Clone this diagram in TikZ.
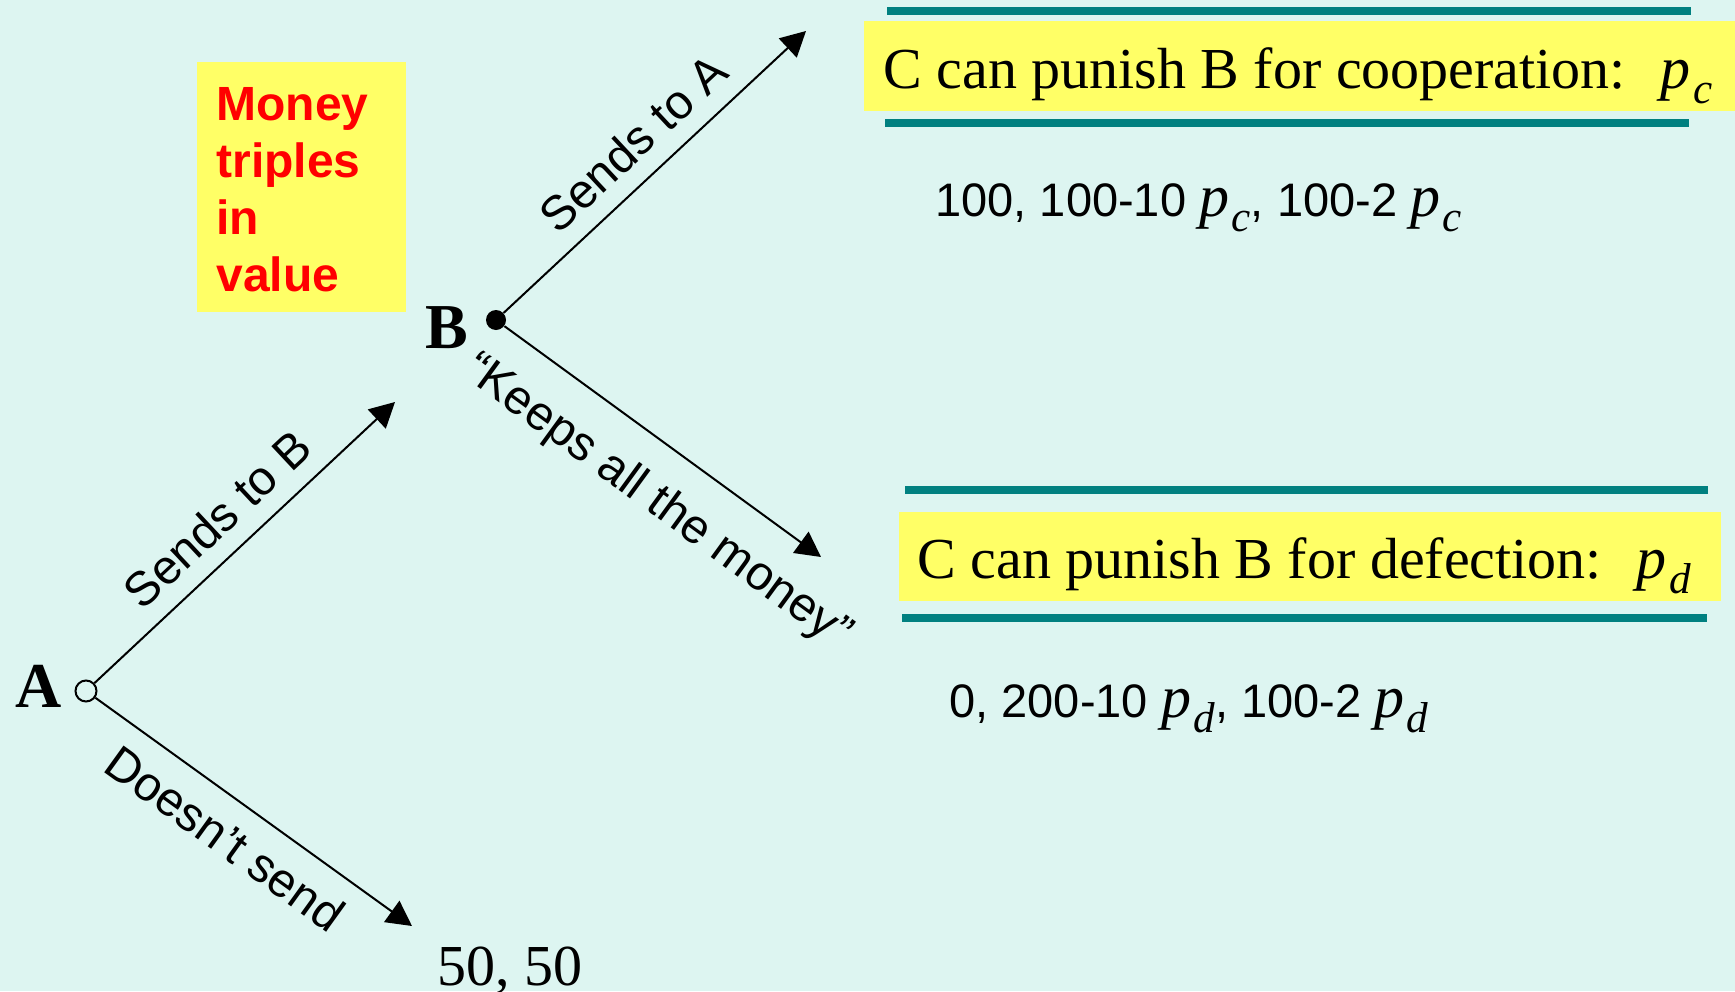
\documentclass[tikz,border=0pt]{standalone}
\usepackage{fontspec}
\usepackage{graphicx}
\usepackage{xcolor}
\usetikzlibrary{arrows.meta}
\setmainfont{Liberation Serif}
\setsansfont{Liberation Sans}
\definecolor{bgaqua}{RGB}{221,245,241}
\definecolor{hilite}{RGB}{255,255,102}
\definecolor{bandteal}{RGB}{0,128,128}
\newcommand{\pv}[2]{{\rmfamily\itshape\fontsize{#1}{#1}\selectfont p\kern0.04em\raisebox{-0.25em}{\scalebox{0.72}{#2}}}}
\newcommand{\lblfont}{\sffamily\fontsize{24}{28}\selectfont}
\tikzset{
    branch/.style={line width=1pt, -{Triangle[length=12.5pt,width=13pt]}},
    edgelbl/.style={font=\lblfont, sloped, inner sep=0pt, text height=17pt, text depth=0pt},
    player/.style={font=\bfseries\fontsize{32}{36}\selectfont, inner sep=0pt, anchor=base west},
    moneytxt/.style={font=\sffamily\bfseries\fontsize{24}{28}\selectfont, text=red, inner sep=0pt, anchor=base west},
    bannertxt/.style={font=\rmfamily\fontsize{29}{35}\selectfont, inner sep=0pt, anchor=base west},
    payoff/.style={font=\sffamily\fontsize{23.5}{28}\selectfont, inner sep=0pt, anchor=base west}
}

\begin{document}
\begin{tikzpicture}[x=0.5pt,y=-0.5pt]
\fill[bgaqua] (0,0) rectangle (1735,991);
\useasboundingbox (0,0) rectangle (1735,991);
\fill[hilite] (197,62) rectangle (406,312);
\fill[hilite] (864,21) rectangle (1735,111);
\fill[hilite] (899,512) rectangle (1721,601);
\foreach \xa/\xb/\y in {
    887/1691/10.5, 885/1689/122.5,
    905/1708/490, 902/1707/618
}{
    \draw[line width=4pt, bandteal] (\xa,\y) -- (\xb,\y);
}
\foreach \word[count=\i] in {Money, triples, in, value}{
    \node[moneytxt] (money\i) at (216, 63+57*\i) {\word};
}
\node[circle, draw, line width=1pt, fill=bgaqua, minimum size=10.5pt, inner sep=0pt] (A) at (86,691) {};
\node[circle, fill=black, minimum size=10pt, inner sep=0pt] (B) at (496,320) {};
\node[player] (Alab) at (15,707) {A};
\node[player] (Blab) at (425,348) {B};
\coordinate (tipAB) at (395,402);
\coordinate (tipBA) at (806,31);
\coordinate (tipBK) at (821,557);
\coordinate (tipAN) at (412,926);
\draw[branch] (A) -- node[edgelbl, above=9pt, pos=.49] {Sends to B} (tipAB);
\draw[branch] (B) -- node[edgelbl, above=9pt, pos=.51] {Sends to A} (tipBA);
\draw[branch] (B) -- node[edgelbl, below=15pt, pos=.58] {``Keeps all the money''} (tipBK);
\draw[branch] (A) -- node[edgelbl, below=10pt, pos=.48] {Doesn't send} (tipAN);
\node[bannertxt] (coop) at (883,88) {C can punish B for cooperation:\hspace{0.6em}\pv{30}{c}};
\node[bannertxt] (defect) at (917,578) {C can punish B for defection:\hspace{0.6em}\pv{30}{d}};
\node[payoff] (paycoop) at (935,216) {100, 100-10 \pv{30}{c}, 100-2 \pv{30}{c}};
\node[payoff] (paydefect) at (949,717) {0, 200-10 \pv{30}{d}, 100-2 \pv{30}{d}};
\node[bannertxt] (nosend) at (437,985) {50, 50};
\end{tikzpicture}
\end{document}
